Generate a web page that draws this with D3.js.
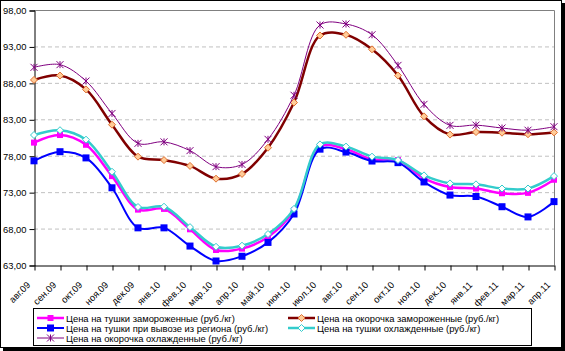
<!DOCTYPE html>
<html><head><meta charset="utf-8">
<script src="https://cdn.jsdelivr.net/npm/d3@7"></script>
<style>
html,body{margin:0;padding:0;background:#fff;}
svg{display:block;font-family:"Liberation Sans",Arial,sans-serif;}
</style></head>
<body><svg id="c" width="565" height="351"></svg>
<script>
const categories = ["авг.09","сен.09","окт.09","ноя.09","дек.09","янв.10","фев.10","мар.10","апр.10","май.10","июн.10","июл.10","авг.10","сен.10","окт.10","ноя.10","дек.10","янв.11","фев.11","мар.11","апр.11"];
const yTicks = [63,68,73,78,83,88,93,98];
const tushkiFrozen   = [79.8,80.84,79.5,75.2,70.6,70.7,67.9,65.06,65.25,66.85,70.5,79.25,78.9,77.5,77.4,74.9,73.7,73.5,72.85,72.9,74.7];
const okorFrozen     = [88.4,89.0,87.1,82.26,77.87,77.4,76.6,74.85,75.5,79.1,85.3,94.5,94.6,92.6,89.0,83.4,80.9,81.25,81.16,80.95,81.2];
const tushkiExport   = [77.3,78.55,77.7,73.6,68.1,68.1,65.6,63.55,64.2,66.1,70.0,78.9,78.5,77.27,77.05,74.4,72.6,72.4,71.0,69.6,71.7];
const tushkiChilled  = [80.84,81.5,80.2,75.8,70.96,71.0,68.2,65.5,65.65,67.25,70.7,79.55,79.25,77.87,77.4,75.3,74.2,74.07,73.5,73.5,75.2];
const okorChilled    = [90.13,90.5,88.25,83.8,79.7,79.9,78.7,76.5,76.8,80.25,86.3,95.94,96.08,94.6,90.4,85.05,82.17,82.2,81.8,81.5,81.98];
const seriesNames = ["Цена на тушки замороженные (руб./кг)","Цена на окорочка замороженные (руб./кг)","Цена на тушки при вывозе из региона (руб./кг)","Цена на тушки охлажденные (руб./кг)","Цена на окорочка охлажденные (руб./кг)"];

const series = [
  {name:seriesNames[0], values:tushkiFrozen, color:"#FF00FF", width:2.5, marker:"square", ms:6, fill:"#FF00FF", mstroke:"#FF00FF"},
  {name:seriesNames[1], values:okorFrozen, color:"#800000", width:2.5, marker:"diamond", ms:7, fill:"#FFCC99", mstroke:"#E07030"},
  {name:seriesNames[2], values:tushkiExport, color:"#0000FF", width:2, marker:"square", ms:7, fill:"#0000FF", mstroke:"#0000FF"},
  {name:seriesNames[3], values:tushkiChilled, color:"#33CCCC", width:2.5, marker:"diamond", ms:7, fill:"#FFFFFF", mstroke:"#33CCCC"},
  {name:seriesNames[4], values:okorChilled, color:"#800080", width:1, marker:"star", ms:7, fill:"none", mstroke:"#800080"}
];

const FS = "9.4px";
const svg = d3.select("#c");
const L=34, R=554, T=10, B=265;
const x = d3.scalePoint().domain(categories).range([L,R]);
const y = d3.scaleLinear().domain([63,98]).range([B,T]);

// outer border with shadow
svg.append("rect").attr("x",562).attr("y",3).attr("width",3).attr("height",348).attr("fill","#000");
svg.append("rect").attr("x",3).attr("y",348).attr("width",562).attr("height",3).attr("fill","#000");
svg.append("rect").attr("x",0.5).attr("y",0.5).attr("width",561).attr("height",347).attr("fill","#fff").attr("stroke","#000");

// gridlines
svg.append("g").selectAll("line").data(yTicks.filter(v=>v>63&&v<98)).join("line")
  .attr("x1",L).attr("x2",R).attr("y1",d=>y(d)+0.5).attr("y2",d=>y(d)+0.5)
  .attr("stroke","#C0C0C0").attr("stroke-dasharray","4,3");
// plot border top/right
svg.append("path").attr("d",`M${L},${T+0.5}H${R+0.5}V${B}`).attr("fill","none").attr("stroke","#808080");

// y axis
const yAxis = d3.axisLeft(y).tickValues(yTicks).tickSize(5).tickFormat(d=>d3.format(".2f")(d).replace(".",","));
const gy = svg.append("g").attr("transform",`translate(${L+0.5},0.5)`).call(yAxis);
gy.select(".domain").attr("stroke","#000");
gy.selectAll(".tick line").attr("stroke","#000");
gy.selectAll("text").attr("font-size",FS).attr("fill","#000").attr("x",-8).attr("font-family","Liberation Sans, Arial, sans-serif");

// x axis
const xAxis = d3.axisBottom(x).tickSize(5).tickSizeOuter(0);
const gx = svg.append("g").attr("transform",`translate(0.5,${B+0.5})`).call(xAxis);
gx.select(".domain").attr("stroke","#000");
gx.selectAll(".tick line").attr("stroke","#000");
gx.selectAll("text").attr("font-size",FS).attr("fill","#000").attr("font-family","Liberation Sans, Arial, sans-serif")
  .attr("text-anchor","end").attr("y",0).attr("dy",0)
  .attr("transform","translate(-4,20) rotate(-45)");

// lines
const line = d3.line().x((d,i)=>x(categories[i])).y(d=>y(d)).curve(d3.curveCatmullRom.alpha(0.5));

function marker(g, type, s, fill, stroke){
  if(type==="square"){
    g.append("rect").attr("x",-s/2).attr("y",-s/2).attr("width",s).attr("height",s).attr("fill",fill).attr("stroke","none");
  } else if(type==="diamond"){
    const h=s/2;
    g.append("path").attr("d",`M0,${-h}L${h},0L0,${h}L${-h},0Z`).attr("fill",fill).attr("stroke",stroke).attr("stroke-width",1);
  } else if(type==="star"){
    const h=s/2;
    g.append("path").attr("d",`M${-h},${-h}L${h},${h}M${-h},${h}L${h},${-h}M0,${-h}L0,${h}`).attr("fill","none").attr("stroke",stroke).attr("stroke-width",1);
  }
}

series.forEach(s=>{
  svg.append("path").datum(s.values).attr("d",line).attr("fill","none").attr("stroke",s.color).attr("stroke-width",s.width);
  s.values.forEach((v,i)=>{
    const g = svg.append("g").attr("transform",`translate(${x(categories[i])},${y(v)})`);
    marker(g, s.marker, s.ms, s.fill, s.mstroke);
  });
});

// legend
const lg = svg.append("g");
lg.append("rect").attr("x",33.5).attr("y",308.5).attr("width",498).attr("height",37).attr("fill","#fff").attr("stroke","#000");
const legPos = [[37,318],[288,318],[37,328],[288,328],[37,338]];
series.forEach((s,i)=>{
  const [lx,ly]=legPos[i];
  lg.append("line").attr("x1",lx).attr("x2",lx+27).attr("y1",ly).attr("y2",ly).attr("stroke",s.color).attr("stroke-width",s.width);
  const g = lg.append("g").attr("transform",`translate(${lx+13.5},${ly})`);
  marker(g, s.marker, s.ms, s.fill, s.mstroke);
  lg.append("text").attr("x",lx+29).attr("y",ly+3.5).attr("font-size",FS).attr("fill","#000").text(s.name);
});
</script></body></html>
